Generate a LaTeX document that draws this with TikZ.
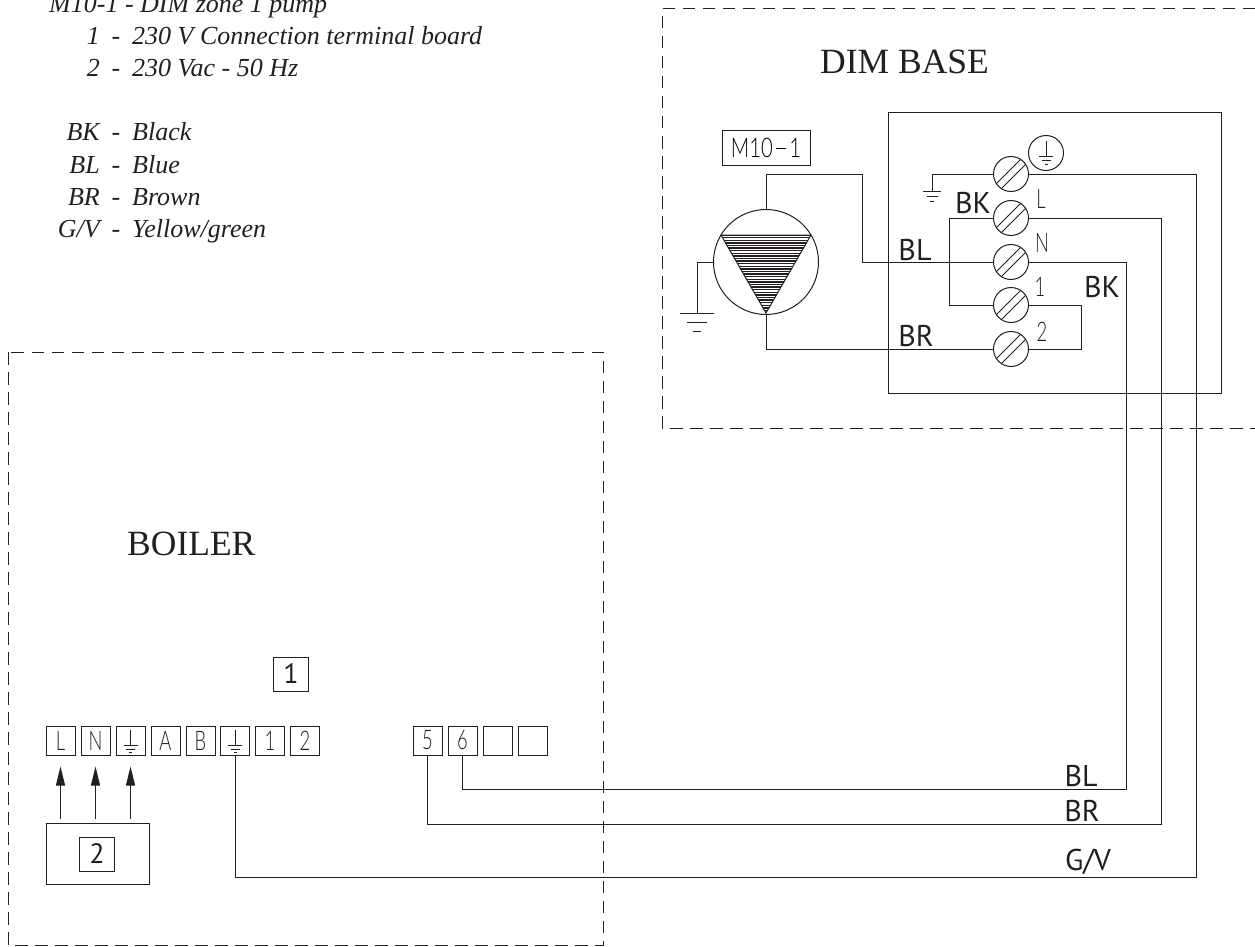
\documentclass[tikz,border=0pt]{standalone}
\usepackage{fontspec}
\setmainfont{Liberation Serif}
\newfontfamily\wirefont{PT Sans}
\newfontfamily\thinfont{Lato Light}
\usetikzlibrary{arrows.meta}
\definecolor{ink}{HTML}{231F20}
\newcommand{\thinlab}[2][.68]{\scalebox{#1}[1]{\fontsize{27}{27}\thinfont #2}}
\tikzset{
  x=1pt,y=-1pt,
  wire/.style={draw=ink,line width=1pt},
  zone/.style={draw=ink,line width=1pt,dash pattern=on 12.5pt off 7.5pt},
  plainbox/.style={draw=ink,line width=1pt,inner sep=0pt,fill=none},
  termbox/.style={plainbox,minimum width=29pt,minimum height=29pt,text=ink},
  numbox/.style={plainbox,minimum width=35pt,minimum height=34pt,text=ink,font=\wirefont\fontsize{28}{28}\selectfont},
  screw/.style={circle,draw=ink,line width=1pt,minimum size=35pt,inner sep=0pt},
  wirelabel/.style={text=ink,inner sep=0pt,font=\wirefont\fontsize{30}{30}\selectfont},
  thinlabel/.style={text=ink,inner sep=0pt},
  legendkey/.style={text=ink,inner sep=0pt,anchor=base east,font=\itshape\fontsize{26}{26}\selectfont},
  legenddash/.style={text=ink,inner sep=0pt,anchor=base,font=\itshape\fontsize{26}{26}\selectfont},
  legendtext/.style={text=ink,inner sep=0pt,anchor=base west,font=\itshape\fontsize{26}{26}\selectfont},
  title/.style={text=ink,inner sep=0pt,anchor=base west,font=\fontsize{35.5}{36}\selectfont},
  power/.style={draw=ink,line width=1pt,-{Triangle[length=19pt,width=9pt]}},
  pics/earth/.style={code={
    \draw[ink,line width=1pt] (-9,0) -- (9,0) (-5.5,5) -- (5.5,5) (-2,10) -- (2,10);}},
  pics/smallearth/.style={code={
    \draw[ink,line width=1pt] (0,-15) -- (0,0) (-7,0) -- (7,0) (-4.5,4) -- (4.5,4) (-1.5,7.5) -- (1.5,7.5);}},
}
\begin{document}
\begin{tikzpicture}
\useasboundingbox (0,0) rectangle (1255,947);
% zones
\draw[zone] (1255,9) -- (662,9) -- (662,428) -- (1255,428);
\draw[zone] (8,352) rectangle (603,945);
% legend
\foreach \yy/\kk/\tt in {45/1/230 V Connection terminal board,77/2/230 Vac - 50 Hz,141/BK/Black,173/BL/Blue,205/BR/Brown,237/G\slash V/Yellow\slash green}{
  \node[legendkey] at (100,\yy) {\kk};
  \node[legenddash] at (116,\yy) {-};
  \node[legendtext] at (132,\yy) {\tt};
}
\node[legendtext] at (49,13) {M10-1 - DIM zone 1 pump};
\node[title] (dim) at (820,74) {DIM BASE};
\node[title] (boiler) at (127,555) {BOILER};
% DIM box
\node[plainbox,minimum width=333pt,minimum height=280pt] (inner) at (1054.5,253) {};
% terminals
\node[screw] (tE) at (1011,174) {};
\node[screw] (tL) at (1011,218) {};
\node[screw] (tN) at (1011,262) {};
\node[screw] (tA) at (1011,305) {};
\node[screw] (tB) at (1011,349) {};
\foreach \n in {tE,tL,tN,tA,tB}{
  \draw[ink,line width=.8pt] ([shift={(14.8,-9.8)}]\n.center) -- ([shift={(-9.8,14.8)}]\n.center);
  \draw[ink,line width=.8pt] ([shift={(9.8,-14.8)}]\n.center) -- ([shift={(-14.8,9.8)}]\n.center);
}
\node[screw] (eCircle) at (1046,153) {};
\pic at (1046,156.5) {smallearth};
% pump
\node[circle,draw=ink,line width=1pt,minimum size=105pt,inner sep=0pt] (pump) at (766,262) {};
\begin{scope}
  \clip (721,235) -- (811,235) -- (766,313) -- cycle;
  \foreach \yy in {235,237.6,...,314}{\draw[ink,line width=1.4pt] (715,\yy) -- (817,\yy);}
\end{scope}
\draw[ink,line width=1pt,line join=miter] (721,235) -- (811,235) -- (766,313) -- cycle;
\node[plainbox,minimum width=88pt,minimum height=34pt] (m10) at (766,148) {\thinlab[.75]{M10\,\raisebox{8.5pt}{\rule{13pt}{.8pt}}\,1}};
% pump wires
\coordinate (gPump) at (697,313);
\coordinate (cP1) at (766,174);
\coordinate (cP2) at (862,262);
\draw[wire] (pump.north) -- (cP1) -| (cP2) -- (tN.west);
\draw[wire] (pump.south) |- (tB.west);
\draw[wire] (pump.west) -| (gPump);
\pic[scale=1.85] at (gPump) {earth};
% internal wires
\coordinate (gTerm) at (932,191);
\draw[wire] (tE.west) -| (gTerm);
\pic at (gTerm) {earth};
\coordinate (cBK) at (949,262);
\draw[wire] (tL.west) -| (cBK) |- (tA.west);
\coordinate (cLink) at (1081,349);
\draw[wire] (tA.east) -| (cLink) -- (tB.east);
% terminal strip
\foreach \n/\xx/\lab in {bL/60.5/L,bN/95.5/N,bE/130.5/,bA/165.5/A,bB/200.5/B,bG/235/,bO/270/1,bT/305/2,b5/427.5/5,b6/462.5/6,bX/497.5/,bY/532.5/}{
  \node[termbox] (\n) at (\xx,740.5) {\thinlab{\lab}};
}
\pic at ([yshift=-4.5pt]bE.center) {smallearth};
\pic at ([yshift=-4.5pt]bG.center) {smallearth};
\node[numbox] (one) at (291,674) {1};
\node[plainbox,minimum width=103pt,minimum height=61pt] (supply) at (97.5,853.5) {};
\node[numbox] (two) at (97,854) {2};
\foreach \n in {bL,bN,bE}{
  \draw[power,shorten <=4pt,shorten >=11pt] (supply.north -| \n.south) -- (\n.south);
}
% long wires
\coordinate (cN) at (1126,789);
\coordinate (cL) at (1161,824);
\coordinate (cE) at (1196,877);
\draw[wire] (tN.east) -| (cN) -| (b6.south);
\draw[wire] (tL.east) -| (cL) -| (b5.south);
\draw[wire] (tE.east) -| (cE) -| (bG.south);
% wire labels
\node[wirelabel] (lBKa) at (973,203) {BK};
\node[wirelabel] (lBLa) at (915,250) {BL};
\node[wirelabel] (lBKb) at (1102,287) {BK};
\node[wirelabel] (lBRa) at (916,336) {BR};
\node[wirelabel] (lBLb) at (1081,776) {BL};
\node[wirelabel] (lBRb) at (1082,811) {BR};
\node[wirelabel] (lGV) at (1088,862) {G/V};
% terminal labels
\node[thinlabel] (nL) at (1041,199) {\thinlab{L}};
\node[thinlabel] (nN) at (1042,243) {\thinlab{N}};
\node[thinlabel] (nO) at (1040,287) {\thinlab{1}};
\node[thinlabel] (nT) at (1042,332) {\thinlab{2}};
\end{tikzpicture}
\end{document}
